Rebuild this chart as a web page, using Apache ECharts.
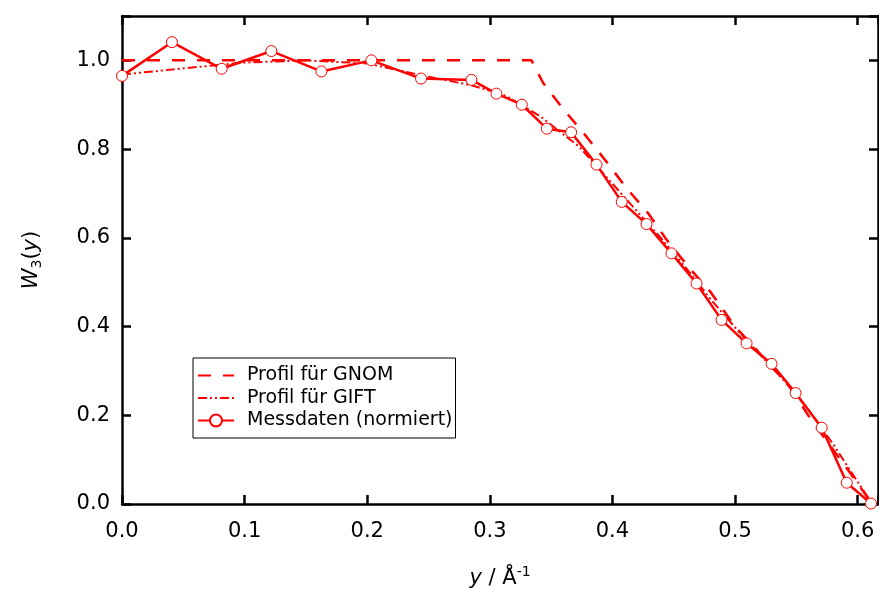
<!DOCTYPE html>
<html>
<head>
<meta charset="utf-8">
<script src="https://cdn.jsdelivr.net/npm/echarts@6/dist/echarts.min.js"></script>
<style>html,body{margin:0;padding:0;background:#fff}#c{width:879px;height:590px}</style>
</head>
<body>
<div id="c"></div>
<script>
// Measured data (normalized)
const messX = [0.0, 0.0407, 0.0813, 0.1218, 0.1626, 0.2034, 0.2439, 0.2850, 0.3054, 0.3261, 0.3465, 0.3663, 0.3870, 0.4076, 0.4278, 0.4482, 0.4686, 0.4890, 0.5094, 0.5298, 0.5494, 0.5707, 0.5911, 0.6109];
const messY = [0.965, 1.041, 0.981, 1.021, 0.975, 1.000, 0.959, 0.956, 0.925, 0.900, 0.846, 0.838, 0.765, 0.681, 0.631, 0.565, 0.497, 0.415, 0.362, 0.316, 0.250, 0.172, 0.048, 0.001];
// Profile for GNOM
const gnomX = [0.0, 0.334, 0.3435, 0.360, 0.3774, 0.395, 0.4115, 0.429, 0.4441, 0.4618, 0.480, 0.500, 0.530, 0.545, 0.562, 0.590, 0.612];
const gnomY = [1.0, 1.0, 0.949, 0.890, 0.833, 0.772, 0.712, 0.656, 0.596, 0.535, 0.478, 0.400, 0.310, 0.263, 0.190, 0.085, 0.0];
// Profile for GIFT
const giftX = [0.0, 0.05, 0.10, 0.15, 0.20, 0.25, 0.285, 0.314, 0.341, 0.373, 0.40, 0.42, 0.44, 0.46, 0.48, 0.50, 0.52, 0.54, 0.56, 0.58, 0.60, 0.612];
const giftY = [0.968, 0.982, 0.995, 1.0, 0.993, 0.963, 0.944, 0.919, 0.874, 0.805, 0.722, 0.660, 0.598, 0.532, 0.462, 0.398, 0.338, 0.278, 0.212, 0.135, 0.050, 0.0];
const xTickLabels = ['0.0','0.1','0.2','0.3','0.4','0.5','0.6'];
const yTickLabels = ['0.0','0.2','0.4','0.6','0.8','1.0'];
const seriesNames = ['Profil für GNOM', 'Profil für GIFT', 'Messdaten (normiert)'];

const zip = (a, b) => a.map((v, i) => [v, b[i]]);
const FONT = 'DejaVu Sans';
const RED = '#ff0000';
const CLEAR = 'rgba(0,0,0,0)';

function fmt(list) {
  return function (v) {
    const s = v.toFixed(1);
    return (Math.abs(v * 10 - Math.round(v * 10)) < 1e-6 && list.indexOf(s) >= 0) ? s : '';
  };
}
const axLine = { show: true, onZero: false, lineStyle: { color: '#000', width: 2.5 } };
const axTick = { show: true, inside: true, length: 9, lineStyle: { color: '#000', width: 2.5 } };

const chart = echarts.init(document.getElementById('c'), null, { renderer: 'canvas' });
chart.setOption({
  animation: false,
  backgroundColor: '#fff',
  textStyle: { fontFamily: FONT },
  grid: { left: 122, right: 1, top: 16, bottom: 86, containLabel: false, outerBoundsMode: 'none' },
  xAxis: [{
    type: 'value', min: 0, max: 0.6166, interval: 0.1, position: 'bottom',
    axisLine: axLine, axisTick: axTick, splitLine: { show: false },
    axisLabel: { formatter: fmt(xTickLabels), fontSize: 21, color: '#000', margin: 17, fontFamily: FONT },
    name: '{i|y} / Å{sup|-1}', nameLocation: 'middle', nameGap: 61,
    nameTextStyle: {
      fontSize: 21, color: '#000', fontFamily: FONT,
      rich: {
        i: { fontStyle: 'italic', fontSize: 21, fontFamily: FONT, color: '#000' },
        sup: { fontSize: 14, fontFamily: FONT, color: '#000', padding: [0, 0, 14, 0] }
      }
    }
  }, {
    type: 'value', min: 0, max: 0.6166, interval: 0.1, position: 'top',
    axisLine: axLine, axisTick: axTick, splitLine: { show: false }, axisLabel: { show: false }
  }],
  yAxis: [{
    type: 'value', min: 0, max: 1.1, interval: 0.2, position: 'left',
    axisLine: axLine, axisTick: axTick, splitLine: { show: false },
    axisLabel: { formatter: fmt(yTickLabels), fontSize: 21, color: '#000', margin: 12, fontFamily: FONT },
    name: '{i|W}{sub|3}({i|y})', nameLocation: 'middle', nameGap: 78, nameRotate: 90,
    nameTextStyle: {
      fontSize: 21, color: '#000', fontFamily: FONT,
      rich: {
        i: { fontStyle: 'italic', fontSize: 21, fontFamily: FONT, color: '#000' },
        sub: { fontSize: 14, fontFamily: FONT, color: '#000', padding: [10, 0, 0, 0] }
      }
    }
  }, {
    type: 'value', min: 0, max: 1.1, interval: 0.2, position: 'right',
    axisLine: axLine, axisTick: axTick, splitLine: { show: false }, axisLabel: { show: false }
  }],
  legend: {
    data: seriesNames, orient: 'vertical', left: 193, top: 358,
    itemWidth: 36, itemHeight: 15, itemGap: 3.5,
    padding: [8, 3, 8, 4],
    borderColor: '#000', borderWidth: 1, backgroundColor: '#fff',
    textStyle: { fontSize: 19, lineHeight: 18.5, color: '#000', fontFamily: FONT, padding: [0, 0, 0, 8] }
  },
  series: [{
    name: seriesNames[0], type: 'line', data: zip(gnomX, gnomY), symbol: 'none',
    lineStyle: { color: RED, width: 2.5, type: [13, 12] },
    itemStyle: { color: CLEAR, borderColor: CLEAR, borderWidth: 0 }, z: 2
  }, {
    name: seriesNames[1], type: 'line', data: zip(giftX, giftY), symbol: 'none',
    lineStyle: { color: RED, width: 2, type: [9, 3, 2, 3, 2, 3] },
    itemStyle: { color: CLEAR, borderColor: CLEAR, borderWidth: 0 }, z: 3
  }, {
    name: seriesNames[2], type: 'line', data: zip(messX, messY), symbol: 'circle', symbolSize: 11,
    lineStyle: { color: RED, width: 2.5 },
    itemStyle: { color: '#fff', borderColor: RED, borderWidth: 1 }, z: 4
  }]
});
</script>
</body>
</html>
